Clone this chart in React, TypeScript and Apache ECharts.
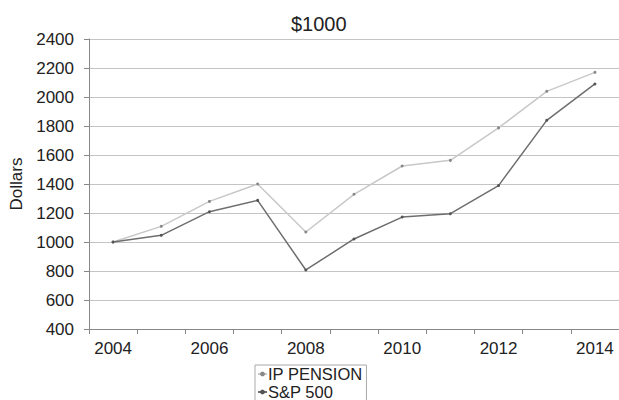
import React, { useEffect, useRef } from "react";
import * as echarts from "echarts";

const years = ["2004", "2005", "2006", "2007", "2008", "2009", "2010", "2011", "2012", "2013", "2014"];
const ipPension = [1000, 1108, 1280, 1400, 1069, 1329, 1524, 1563, 1787, 2039, 2170];
const sp500 = [1000, 1046, 1209, 1287, 807, 1021, 1172, 1195, 1389, 1839, 2090];
const yTicks = { min: 400, max: 2400, interval: 200 };

const FONT = "'Liberation Sans', Arial, sans-serif";

export default function App() {
  const ref = useRef<HTMLDivElement>(null);
  useEffect(() => {
    if (!ref.current) return;
    const chart = echarts.init(ref.current, undefined, { renderer: "svg" });
    chart.setOption({
      animation: false,
      backgroundColor: "#ffffff",
      textStyle: { fontFamily: FONT },
      title: {
        text: "$1000",
        left: 286,
        top: 9,
        textStyle: { fontFamily: FONT, fontSize: 20, fontWeight: "normal", color: "#222" },
      },
      legend: {
        orient: "vertical",
        left: 255,
        top: 365,
        height: 60,
        itemWidth: 9,
        itemHeight: 6,
        itemGap: 0,
        padding: [0, 4, 1, 2],
        borderColor: "#aaa",
        borderWidth: 1,
        textStyle: { fontFamily: FONT, fontSize: 16.5, color: "#222", padding: [0, 0, 0, -4], lineHeight: 18 },
        data: ["IP PENSION", "S&P 500"],
      },
      grid: { left: 89, top: 39, width: 533, height: 290 },
      xAxis: {
        type: "category",
        data: years,
        boundaryGap: true,
        axisLine: { lineStyle: { color: "#888" } },
        axisTick: { show: true, interval: 0, length: 5, lineStyle: { color: "#888" } },
        axisLabel: { interval: 1, fontSize: 17, color: "#222", margin: 11, fontFamily: FONT },
      },
      yAxis: {
        type: "value",
        min: yTicks.min,
        max: yTicks.max,
        interval: yTicks.interval,
        name: "Dollars",
        nameLocation: "middle",
        nameRotate: 90,
        nameGap: 63,
        nameTextStyle: { fontSize: 17, color: "#222", fontFamily: FONT },
        axisLine: { show: true, lineStyle: { color: "#888" } },
        axisTick: { show: true, length: 5, lineStyle: { color: "#888" } },
        axisLabel: { fontSize: 17, color: "#222", margin: 15, fontFamily: FONT, formatter: (v: number) => String(v) },
        splitLine: { lineStyle: { color: "#c4c4c4", width: 1 } },
      },
      series: [
        {
          name: "IP PENSION",
          type: "line",
          data: ipPension,
          symbol: "circle",
          symbolSize: 3,
          lineStyle: { color: "#c8c8c8", width: 1.5 },
          itemStyle: { color: "#888" },
        },
        {
          name: "S&P 500",
          type: "line",
          data: sp500,
          symbol: "circle",
          symbolSize: 3,
          lineStyle: { color: "#6e6e6e", width: 1.5 },
          itemStyle: { color: "#555" },
        },
      ],
    });
    return () => chart.dispose();
  }, []);
  return <div ref={ref} style={{ width: 619, height: 400, position: "absolute", left: 0, top: 0 }} />;
}
